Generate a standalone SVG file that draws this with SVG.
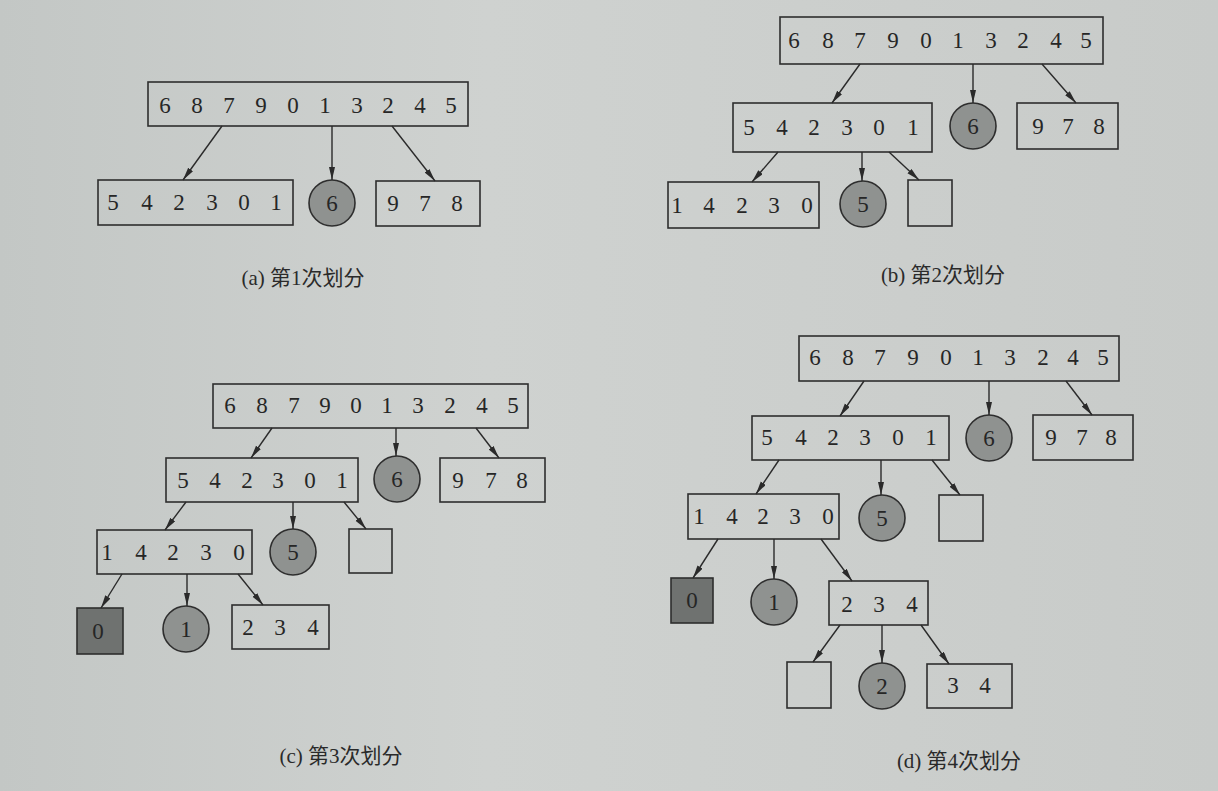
<svg xmlns="http://www.w3.org/2000/svg" width="1218" height="791" viewBox="0 0 1218 791">
<style>
.bx{fill:none;stroke:#2e2e2e;stroke-width:1.6}
.ci{fill:#8f9290;stroke:#2e2e2e;stroke-width:1.6}
.dk{fill:#6f7270;stroke:#2e2e2e;stroke-width:1.6}
.t{font-family:"Liberation Serif","DejaVu Serif",serif;font-size:23px;fill:#262626;text-anchor:middle}
.cap{font-family:"Liberation Serif","Noto Sans CJK SC",serif;font-size:21px;fill:#2a2a2a;text-anchor:middle}
.ed line{stroke:#2a2a2a;stroke-width:1.4;marker-end:url(#ah)}
</style>
<defs>
<linearGradient id="bg" x1="0" y1="0" x2="1" y2="0">
<stop offset="0" stop-color="#c3c7c5"/>
<stop offset="0.4" stop-color="#cfd2d0"/>
<stop offset="1" stop-color="#c8cbc9"/>
</linearGradient>
<marker id="ah" markerUnits="userSpaceOnUse" markerWidth="14" markerHeight="7" refX="13" refY="3" orient="auto">
<path d="M0,0 L13,3 L0,6 z" fill="#2a2a2a"/>
</marker>
</defs>
<rect width="1218" height="791" fill="url(#bg)"/>

<g id="panel-a">
<g id="a-root"><rect class="bx" x="148" y="82" width="320" height="44"/><text class="t" y="113" x="165 181 197 213 229 245 261 277 293 309 325 341 357 372 388 404 420 435 451">6 8 7 9 0 1 3 2 4 5</text></g>
<g id="a-left"><rect class="bx" x="98" y="180" width="195" height="45"/><text class="t" y="210" x="113 130 147 163 179 195 212 228 244 260 276">5 4 2 3 0 1</text></g>
<g id="a-pivot"><circle class="ci" cx="332" cy="203" r="23"/><text class="t" x="332" y="211">6</text></g>
<g id="a-right"><rect class="bx" x="376" y="181" width="104" height="45"/><text class="t" y="211" x="393 409 425 441 457">9 7 8</text></g>
<g class="ed" id="a-edges">
<line x1="222" y1="126" x2="183" y2="180"/>
<line x1="332" y1="126" x2="332" y2="180"/>
<line x1="392" y1="126" x2="435" y2="181"/>
</g>
<text class="cap" x="303" y="285">(a) 第1次划分</text>
</g>

<g id="panel-b">
<g id="b-root"><rect class="bx" x="780" y="17" width="323" height="47"/><text class="t" y="48" x="794 811 828 844 860 876 893 909 926 942 958 974 991 1007 1023 1039 1056 1071 1086">6 8 7 9 0 1 3 2 4 5</text></g>
<g id="b-l2"><rect class="bx" x="733" y="103" width="199" height="49"/><text class="t" y="135" x="749 765 782 798 814 830 847 863 879 896 913">5 4 2 3 0 1</text></g>
<g id="b-p6"><circle class="ci" cx="973" cy="126" r="23"/><text class="t" x="973" y="134">6</text></g>
<g id="b-r"><rect class="bx" x="1017" y="103" width="101" height="46"/><text class="t" y="134" x="1038 1053 1068 1083 1099">9 7 8</text></g>
<g id="b-l3"><rect class="bx" x="668" y="182" width="151" height="46"/><text class="t" y="213" x="677 693 709 725 742 758 774 790 807">1 4 2 3 0</text></g>
<g id="b-p5"><circle class="ci" cx="863" cy="204" r="23"/><text class="t" x="863" y="212">5</text></g>
<g id="b-e"><rect class="bx" x="908" y="180" width="44" height="46"/></g>
<g class="ed" id="b-edges">
<line x1="860" y1="64" x2="832" y2="103"/>
<line x1="973" y1="64" x2="973" y2="103"/>
<line x1="1042" y1="64" x2="1076" y2="103"/>
<line x1="778" y1="152" x2="752" y2="182"/>
<line x1="862" y1="152" x2="862" y2="181"/>
<line x1="889" y1="152" x2="919" y2="180"/>
</g>
<text class="cap" x="943" y="282">(b) 第2次划分</text>
</g>

<g id="panel-c">
<g id="c-root"><rect class="bx" x="213" y="384" width="315" height="44"/><text class="t" y="413" x="230 246 262 278 294 310 325 341 356 372 387 403 418 434 450 466 482 497 513">6 8 7 9 0 1 3 2 4 5</text></g>
<g id="c-l2"><rect class="bx" x="166" y="458" width="192" height="44"/><text class="t" y="488" x="183 199 215 231 247 262 278 294 310 326 342">5 4 2 3 0 1</text></g>
<g id="c-p6"><circle class="ci" cx="397" cy="479" r="23"/><text class="t" x="397" y="487">6</text></g>
<g id="c-r"><rect class="bx" x="440" y="458" width="105" height="44"/><text class="t" y="488" x="458 474 491 506 522">9 7 8</text></g>
<g id="c-l3"><rect class="bx" x="97" y="530" width="155" height="44"/><text class="t" y="560" x="107 124 141 157 173 189 206 222 239">1 4 2 3 0</text></g>
<g id="c-p5"><circle class="ci" cx="293" cy="552" r="23"/><text class="t" x="293" y="560">5</text></g>
<g id="c-e"><rect class="bx" x="349" y="529" width="43" height="44"/></g>
<g id="c-0"><rect class="dk" x="77" y="608" width="46" height="46"/><text class="t" x="98" y="639">0</text></g>
<g id="c-p1"><circle class="ci" cx="186" cy="629" r="23"/><text class="t" x="186" y="637">1</text></g>
<g id="c-234"><rect class="bx" x="232" y="605" width="97" height="44"/><text class="t" y="635" x="248 264 280 296 313">2 3 4</text></g>
<g class="ed" id="c-edges">
<line x1="272" y1="428" x2="251" y2="458"/>
<line x1="396" y1="428" x2="396" y2="456"/>
<line x1="476" y1="428" x2="499" y2="458"/>
<line x1="186" y1="502" x2="165" y2="530"/>
<line x1="293" y1="502" x2="293" y2="529"/>
<line x1="344" y1="502" x2="366" y2="529"/>
<line x1="122" y1="574" x2="101" y2="608"/>
<line x1="187" y1="574" x2="187" y2="606"/>
<line x1="238" y1="574" x2="263" y2="605"/>
</g>
<text class="cap" x="341" y="763">(c) 第3次划分</text>
</g>

<g id="panel-d">
<g id="d-root"><rect class="bx" x="799" y="336" width="320" height="45"/><text class="t" y="365" x="815 831 848 864 880 896 913 929 946 962 978 994 1010 1026 1043 1058 1073 1088 1103">6 8 7 9 0 1 3 2 4 5</text></g>
<g id="d-l2"><rect class="bx" x="752" y="416" width="197" height="44"/><text class="t" y="445" x="767 784 801 817 833 849 865 881 898 914 931">5 4 2 3 0 1</text></g>
<g id="d-p6"><circle class="ci" cx="989" cy="438" r="23"/><text class="t" x="989" y="446">6</text></g>
<g id="d-r"><rect class="bx" x="1033" y="415" width="100" height="45"/><text class="t" y="445" x="1051 1066 1082 1096 1111">9 7 8</text></g>
<g id="d-l3"><rect class="bx" x="688" y="494" width="151" height="45"/><text class="t" y="524" x="699 715 732 747 763 779 795 811 828">1 4 2 3 0</text></g>
<g id="d-p5"><circle class="ci" cx="882" cy="518" r="23"/><text class="t" x="882" y="526">5</text></g>
<g id="d-e1"><rect class="bx" x="939" y="495" width="44" height="46"/></g>
<g id="d-0"><rect class="dk" x="671" y="578" width="42" height="45"/><text class="t" x="692" y="608">0</text></g>
<g id="d-p1"><circle class="ci" cx="774" cy="602" r="23"/><text class="t" x="774" y="610">1</text></g>
<g id="d-234"><rect class="bx" x="829" y="581" width="99" height="44"/><text class="t" y="612" x="847 863 879 895 912">2 3 4</text></g>
<g id="d-e2"><rect class="bx" x="787" y="662" width="44" height="46"/></g>
<g id="d-p2"><circle class="ci" cx="882" cy="686" r="23"/><text class="t" x="882" y="694">2</text></g>
<g id="d-34"><rect class="bx" x="927" y="664" width="85" height="44"/><text class="t" y="693" x="953 969 985">3 4</text></g>
<g class="ed" id="d-edges">
<line x1="864" y1="381" x2="840" y2="416"/>
<line x1="989" y1="381" x2="989" y2="415"/>
<line x1="1066" y1="381" x2="1092" y2="415"/>
<line x1="779" y1="460" x2="756" y2="494"/>
<line x1="881" y1="460" x2="881" y2="495"/>
<line x1="932" y1="460" x2="960" y2="495"/>
<line x1="718" y1="539" x2="693" y2="578"/>
<line x1="774" y1="539" x2="774" y2="579"/>
<line x1="821" y1="539" x2="852" y2="581"/>
<line x1="840" y1="625" x2="813" y2="662"/>
<line x1="882" y1="625" x2="882" y2="663"/>
<line x1="921" y1="625" x2="949" y2="664"/>
</g>
<text class="cap" x="959" y="768">(d) 第4次划分</text>
</g>
</svg>
